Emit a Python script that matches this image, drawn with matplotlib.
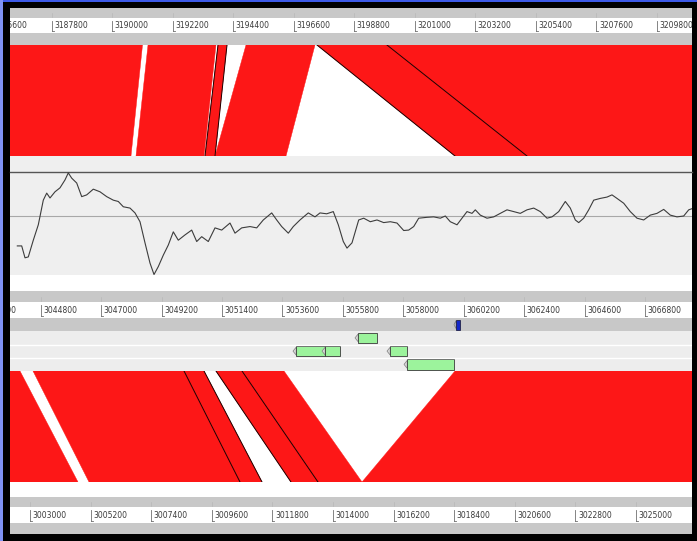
import matplotlib
matplotlib.use("Agg")
import matplotlib.pyplot as plt
from matplotlib.patches import Rectangle, Polygon

# ---------------- data ----------------
# visible windows (bp) of the three sequences
seq1_view = (3186292, 3211070)   # upper genome
seq2_view = (3043683, 3068508)   # middle genome
seq3_view = (3002274, 3027031)   # lower genome

seq1_ticks = [3185600, 3187800, 3190000, 3192200, 3194400, 3196600, 3198800,
              3201000, 3203200, 3205400, 3207600, 3209800]
seq2_ticks = [3042600, 3044800, 3047000, 3049200, 3051400, 3053600, 3055800,
              3058000, 3060200, 3062400, 3064600, 3066800]
seq3_ticks = [3003000, 3005200, 3007400, 3009600, 3011800, 3014000, 3016200,
              3018400, 3020600, 3022800, 3025000]

# matches seq1 <-> seq2
upper_s1_start = [3175030, 3191306, 3193849, 3194866, 3197445, 3199988]
upper_s1_end   = [3191106, 3193776, 3194176, 3197373, 3199988, 3222255]
upper_s2_start = [3031962, 3048269, 3050781, 3051145, 3059881, 3062502]
upper_s2_end   = [3048087, 3050745, 3051145, 3053730, 3062502, 3084815]

# matches seq2 <-> seq3
lower_s2_start = [3032399, 3044520, 3050017, 3051181, 3052128, 3059881]
lower_s2_end   = [3044047, 3050017, 3050745, 3052128, 3053657, 3079719]
lower_s3_start = [2993126, 3005142, 3010623, 3012474, 3013454, 3015052]
lower_s3_end   = [3004742, 3010623, 3011422, 3013454, 3015052, 3034835]

# graph along seq2
graph_pos = [3043949, 3044109, 3044229, 3044349, 3044531, 3044713, 3044895, 3045019,
             3045139, 3045321, 3045503, 3045685, 3045805, 3045929, 3046111, 3046293,
             3046475, 3046715, 3046959, 3047203, 3047443, 3047625, 3047807, 3048051,
             3048233, 3048415, 3048597, 3048779, 3048925, 3049081, 3049263, 3049445,
             3049627, 3049809, 3050053, 3050297, 3050479, 3050661, 3050901, 3051145,
             3051389, 3051691, 3051873, 3052117, 3052419, 3052663, 3052903, 3053209,
             3053391, 3053573, 3053813, 3053995, 3054239, 3054541, 3054785, 3054967,
             3055211, 3055451, 3055633, 3055815, 3055950, 3056132, 3056376, 3056558,
             3056798, 3057042, 3057285, 3057527, 3057770, 3058014, 3058196, 3058378,
             3058560, 3058862, 3059105, 3059346, 3059528, 3059710, 3059954, 3060136,
             3060318, 3060500, 3060620, 3060802, 3061046, 3061290, 3061530, 3061774,
             3062018, 3062258, 3062502, 3062746, 3062986, 3063230, 3063412, 3063656,
             3063896, 3064078, 3064260, 3064384, 3064566, 3064748, 3064930, 3065170,
             3065414, 3065596, 3065778, 3066022, 3066262, 3066506, 3066750, 3066990,
             3067234, 3067478, 3067718, 3067962, 3068206, 3068388, 3068570]
graph_val = [-0.68, -0.68, -0.95, -0.93, -0.55, -0.20, 0.36, 0.52,
             0.41, 0.55, 0.64, 0.82, 0.98, 0.86, 0.75, 0.44,
             0.48, 0.61, 0.55, 0.44, 0.36, 0.33, 0.21, 0.18,
             0.07, -0.13, -0.61, -1.07, -1.33, -1.15, -0.89, -0.66,
             -0.36, -0.55, -0.43, -0.32, -0.58, -0.47, -0.58, -0.27,
             -0.32, -0.16, -0.39, -0.27, -0.24, -0.27, -0.09, 0.07,
             -0.09, -0.24, -0.39, -0.24, -0.09, 0.07, -0.02, 0.07,
             0.05, 0.10, -0.20, -0.58, -0.73, -0.61, -0.09, -0.05,
             -0.13, -0.09, -0.15, -0.13, -0.16, -0.33, -0.32, -0.24,
             -0.05, -0.03, -0.02, -0.05, 0.00, -0.13, -0.20, -0.05,
             0.10, 0.06, 0.14, 0.02, -0.05, -0.02, 0.06, 0.14,
             0.10, 0.06, 0.14, 0.18, 0.10, -0.05, -0.02, 0.10,
             0.33, 0.18, -0.09, -0.15, -0.05, 0.14, 0.36, 0.40,
             0.43, 0.48, 0.40, 0.29, 0.10, -0.05, -0.09, 0.02,
             0.06, 0.15, 0.02, -0.02, 0.00, 0.14, 0.18]
graph_max = 1.0
graph_min = -1.341

# features on seq2 (reverse strand, drawn from start = arrow tip)
feat_start = [3056241, 3053984, 3055040, 3057406, 3058025]
feat_end   = [3057042, 3055149, 3055695, 3058134, 3059845]
feat_frame = [1, 2, 2, 2, 3]
marker_start, marker_end = 3059845, 3060063

# ---------------- drawing ----------------
W, H = 697, 541
fig = plt.figure(figsize=(W / 100, H / 100), dpi=100)
fig.patch.set_facecolor('#3d5ae6')

RED = '#fd1717'
GREY = '#c8c8c8'
LANE = '#ededed'


def px_axes(x0, y0, x1, y1, **kw):
    ax = fig.add_axes([x0 / W, 1 - y1 / H, (x1 - x0) / W, (y1 - y0) / H], **kw)
    ax.set_axis_off()
    return ax


bg = px_axes(0, 0, W, H)
bg.set_xlim(0, W)
bg.set_ylim(H, 0)
bg.add_patch(Rectangle((0, 0), 3, H, color='#7f92f4', lw=0))
bg.add_patch(Rectangle((3, 2), W - 3, H - 2, color='black', lw=0))
bg.add_patch(Rectangle((10, 8), 682, 526, color='white', lw=0))
bg.add_patch(Rectangle((10, 156), 682, 119, color='#efefef', lw=0))


def draw_ruler(y_band0, y_strip0, y_strip1, y_band1, view, ticks):
    ax = px_axes(10, y_band0, 692, y_band1)
    ax.set_xlim(*view)
    ax.set_ylim(y_band1, y_band0)
    ax.axhspan(y_band0, y_band1, color=GREY, lw=0)
    ax.axhspan(y_strip0, y_strip1, color='white', lw=0)
    bppx = (view[1] - view[0]) / 682.0
    for t in ticks:
        ax.plot([t, t], [y_strip0 + 3, y_strip1 - 2], color='#707070', lw=0.6)
        ax.plot([t, t + 2 * bppx], [y_strip1 - 2, y_strip1 - 2], color='#707070', lw=0.6)
        ax.plot([t, t], [y_strip0 - 5, y_strip0 - 1], color='#b8b8b8', lw=0.5)
        ax.text(t + 2.5 * bppx, (y_strip0 + y_strip1) / 2 + 0.5, str(t), fontsize=5.5,
                color='#3a3a3a', ha='left', va='center', clip_on=True)
    return ax


draw_ruler(8, 18, 33, 45, seq1_view, seq1_ticks)
draw_ruler(291, 302, 318, 318.5, seq2_view, seq2_ticks)
draw_ruler(497, 507, 523, 534, seq3_view, seq3_ticks)


def frac(bp, view):
    return (bp - view[0]) / (view[1] - view[0])


def draw_comparison(y0, y1, top_view, bot_view, ts, te, bs, be, outlined):
    ax = px_axes(10, y0, 692, y1)
    ax.set_xlim(0, 1)
    ax.set_ylim(0, 1)
    for i in range(len(ts)):
        pts = [(frac(ts[i], top_view), 1), (frac(te[i], top_view), 1),
               (frac(be[i], bot_view), 0), (frac(bs[i], bot_view), 0)]
        ax.add_patch(Polygon(pts, closed=True, facecolor=RED, edgecolor=RED, lw=0.3))
    for i in outlined:
        ax.plot([frac(ts[i], top_view), frac(bs[i], bot_view)], [1, 0], color='#1a0000', lw=0.7)
        ax.plot([frac(te[i], top_view), frac(be[i], bot_view)], [1, 0], color='#1a0000', lw=0.7)
    return ax


draw_comparison(45, 156, seq1_view, seq2_view,
                upper_s1_start, upper_s1_end, upper_s2_start, upper_s2_end, [2, 4])
draw_comparison(371, 482, seq2_view, seq3_view,
                lower_s2_start, lower_s2_end, lower_s3_start, lower_s3_end, [2, 3])

# graph
g = px_axes(10, 172, 692, 275)
g.set_xlim(*seq2_view)
g.set_ylim(graph_min, graph_max)
g.axhline(graph_max, color='#555555', lw=1.0, clip_on=False)
g.axhline(0, color='#a8a8a8', lw=0.8)
g.plot(graph_pos, graph_val, color='#3c3c3c', lw=0.8)

# feature lanes of seq2
f = px_axes(10, 318, 692, 371)
f.set_xlim(*seq2_view)
f.set_ylim(4, 0)
f.axhspan(0, 1, color=GREY, lw=0)
f.axhspan(1, 4, color=LANE, lw=0)
for yy in (2, 3):
    f.axhline(yy, color='white', lw=1.0)
bppx2 = (seq2_view[1] - seq2_view[0]) / 682.0
tip = 3.2 * bppx2
for s, e, r in zip(feat_start, feat_end, feat_frame):
    f.add_patch(Polygon([(s, r + 0.5), (s + tip, r + 0.2), (s + tip, r + 0.8)],
                        closed=True, facecolor='#d8d8d8', edgecolor='#808080', lw=0.5))
    f.add_patch(Rectangle((s + tip, r + 0.1), e - s - tip, 0.8,
                          facecolor='#9cf39c', edgecolor='#3a3a3a', lw=0.6))
f.add_patch(Polygon([(marker_start, 0.5), (marker_start + 2 * bppx2, 0.2),
                     (marker_start + 2 * bppx2, 0.8)], closed=True,
                    facecolor='#d0d0d0', edgecolor='#808080', lw=0.5))
f.add_patch(Rectangle((marker_start + 2 * bppx2, 0.12), marker_end - marker_start - 2 * bppx2, 0.76,
                      facecolor='#1428c8', edgecolor='#101030', lw=0.5))

fig.savefig('out.png', dpi=100, facecolor=fig.get_facecolor())
